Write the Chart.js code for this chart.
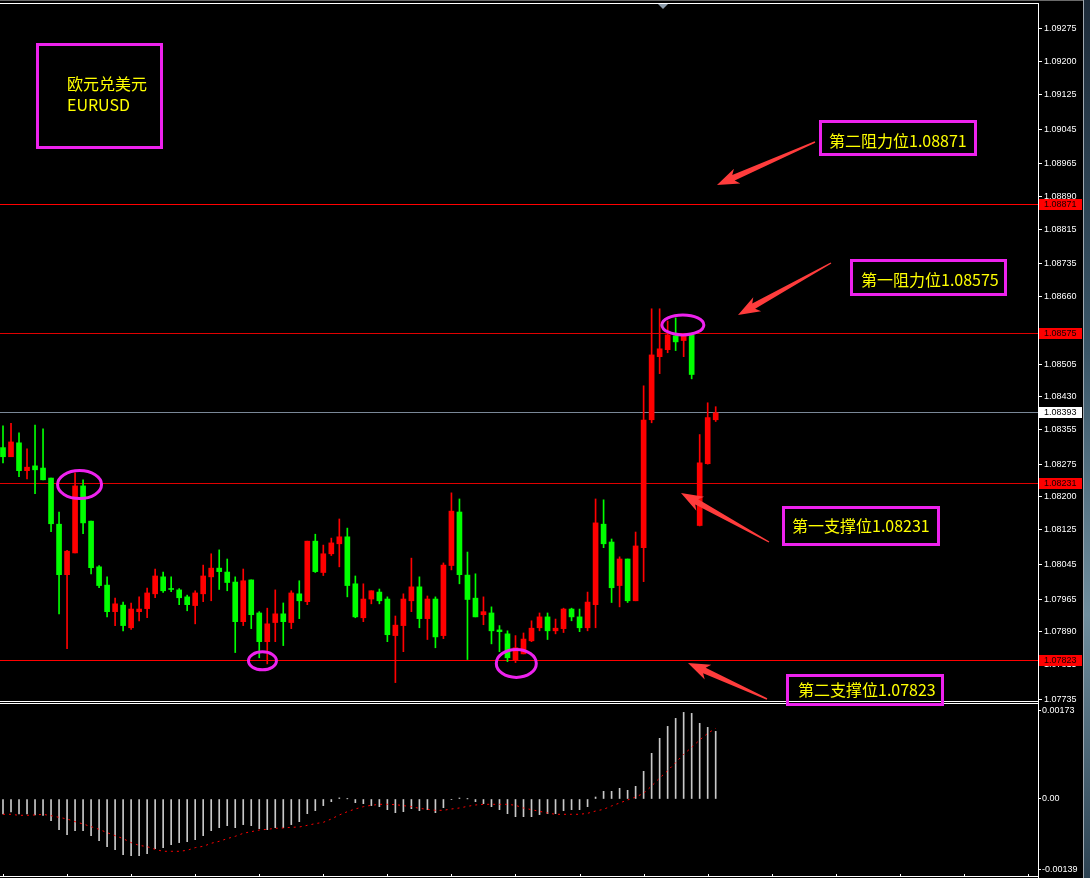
<!DOCTYPE html>
<html><head><meta charset="utf-8">
<script src="https://cdn.jsdelivr.net/npm/chart.js@4.4.1/dist/chart.umd.min.js"></script>
<style>html,body{margin:0;padding:0;background:#000;overflow:hidden}#wrap{position:relative;width:1090px;height:878px}</style>
</head><body><div id="wrap"><canvas id="c" width="1090" height="878"></canvas></div>
<script>
// ---------- DATA ----------
const opens=[1.08313,1.08292,1.08324,1.08260,1.08271,1.08266,1.08243,1.08137,1.08021,1.08071,
1.08225,1.08144,1.08039,1.07997,1.07936,1.07951,1.07899,1.07936,1.07943,1.07977,
1.08016,1.07989,1.07986,1.07970,1.07950,1.07977,1.08016,1.08036,1.08027,1.08004,
1.07913,1.08009,1.07933,1.07867,1.07911,1.07931,1.07911,1.07977,1.07959,1.08098,
1.08026,1.08069,1.08092,1.08108,1.08000,1.07922,1.07965,1.07981,1.07965,1.07881,
1.07904,1.07961,1.07993,1.07920,1.07965,1.07881,1.08042,1.08165,1.08020,1.07967,
1.07929,1.07933,1.07894,1.07885,1.07825,1.07839,1.07869,1.07899,1.07924,1.07892,
1.07897,1.07942,1.07924,1.07899,1.07952,1.08137,1.08096,1.07996,1.08057,1.07961,
1.08083,1.08377,1.08522,1.08538,1.08570,1.08559,1.08572,1.08134,1.08276,1.08377];
const closes=[1.08292,1.08326,1.08260,1.08268,1.08262,1.08239,1.08138,1.08021,1.08075,1.08225,
1.08140,1.08037,1.07996,1.07936,1.07954,1.07904,1.07942,1.07942,1.07979,1.08018,
1.07984,1.07987,1.07968,1.07952,1.07979,1.08018,1.08036,1.08028,1.08003,1.07913,
1.08007,1.07929,1.07867,1.07908,1.07931,1.07913,1.07979,1.07961,1.08098,1.08028,
1.08069,1.08094,1.08108,1.07996,1.07924,1.07965,1.07984,1.07961,1.07883,1.07905,
1.07965,1.07993,1.07920,1.07965,1.07878,1.08043,1.08167,1.08021,1.07964,1.07924,
1.07936,1.07892,1.07890,1.07830,1.07853,1.07873,1.07898,1.07924,1.07892,1.07898,
1.07942,1.07924,1.07899,1.07958,1.08140,1.08092,1.07991,1.08057,1.07961,1.08087,
1.08376,1.08526,1.08540,1.08572,1.08556,1.08570,1.08481,1.08278,1.08382,1.08393];
const highs=[1.08363,1.08369,1.08347,1.08310,1.08365,1.08356,1.08243,1.08165,1.08077,1.08255,
1.08239,1.08144,1.08042,1.08016,1.07967,1.07958,1.07956,1.07970,1.07990,1.08034,
1.08027,1.08016,1.07989,1.07974,1.07984,1.08043,1.08069,1.08078,1.08057,1.08016,
1.08034,1.08009,1.07936,1.07944,1.07986,1.07956,1.07984,1.08007,1.08098,1.08114,
1.08089,1.08105,1.08149,1.08128,1.08018,1.08000,1.07984,1.07988,1.07970,1.07926,
1.07977,1.08059,1.08016,1.07972,1.07970,1.08048,1.08209,1.08195,1.08073,1.08023,
1.07970,1.07947,1.07904,1.07892,1.07881,1.07887,1.07915,1.07933,1.07933,1.07919,
1.07944,1.07944,1.07942,1.07981,1.08195,1.08193,1.08103,1.08062,1.08057,1.08119,
1.08455,1.08632,1.08632,1.08604,1.08611,1.08570,1.08576,1.08343,1.08416,1.08407];
const lows=[1.08278,1.08292,1.08246,1.08241,1.08207,1.08239,1.08120,1.07931,1.07851,1.08071,
1.08115,1.08023,1.07991,1.07924,1.07904,1.07892,1.07895,1.07915,1.07922,1.07968,
1.07980,1.07982,1.07952,1.07938,1.07908,1.07959,1.07961,1.07987,1.07984,1.07842,
1.07904,1.07897,1.07830,1.07816,1.07867,1.07858,1.07897,1.07920,1.07952,1.08026,
1.08019,1.08065,1.08039,1.07970,1.07922,1.07913,1.07954,1.07954,1.07867,1.07773,
1.07844,1.07936,1.07899,1.07872,1.07853,1.07874,1.08032,1.08000,1.07826,1.07924,
1.07906,1.07862,1.07844,1.07821,1.07819,1.07839,1.07867,1.07892,1.07872,1.07885,
1.07888,1.07915,1.07890,1.07892,1.07899,1.08083,1.07957,1.07947,1.07957,1.07961,
1.08005,1.08370,1.08483,1.08531,1.08536,1.08522,1.08471,1.08133,1.08275,1.08373];
const macdHist=[-0.000273,-0.000237,-0.000273,-0.000273,-0.000291,-0.000297,-0.000395,-0.000559,-0.000650,-0.000577,
-0.000577,-0.000668,-0.000759,-0.000868,-0.000923,-0.001014,-0.001032,-0.001032,-0.000996,-0.000905,
-0.000886,-0.000832,-0.000795,-0.000777,-0.000741,-0.000668,-0.000577,-0.000522,-0.000486,-0.000522,
-0.000467,-0.000486,-0.000540,-0.000559,-0.000522,-0.000522,-0.000467,-0.000413,-0.000267,-0.000212,
-0.000121,-0.000049,0.000020,0.000003,-0.000067,-0.000085,-0.000121,-0.000140,-0.000194,-0.000249,
-0.000231,-0.000176,-0.000212,-0.000194,-0.000249,-0.000158,-0.000012,0.000018,0.000002,-0.000049,
-0.000085,-0.000140,-0.000194,-0.000267,-0.000322,-0.000322,-0.000322,-0.000285,-0.000267,-0.000267,
-0.000212,-0.000194,-0.000194,-0.000140,0.000036,0.000140,0.000140,0.000194,0.000158,0.000231,
0.000504,0.000832,0.001105,0.001323,0.001469,0.001578,0.001560,0.001378,0.001305,0.001232];
const macdSignal=[-0.000279,-0.000279,-0.000297,-0.000297,-0.000291,-0.000279,-0.000304,-0.000334,-0.000364,-0.000413,
-0.000455,-0.000504,-0.000552,-0.000613,-0.000668,-0.000722,-0.000795,-0.000844,-0.000868,-0.000917,
-0.000953,-0.000953,-0.000953,-0.000935,-0.000886,-0.000862,-0.000807,-0.000771,-0.000722,-0.000680,
-0.000625,-0.000595,-0.000565,-0.000552,-0.000534,-0.000528,-0.000516,-0.000510,-0.000480,-0.000449,
-0.000425,-0.000364,-0.000291,-0.000231,-0.000182,-0.000140,-0.000115,-0.000097,-0.000097,-0.000103,
-0.000121,-0.000140,-0.000170,-0.000188,-0.000206,-0.000206,-0.000182,-0.000164,-0.000134,-0.000109,
-0.000097,-0.000097,-0.000097,-0.000097,-0.000115,-0.000164,-0.000194,-0.000225,-0.000255,-0.000279,
-0.000279,-0.000279,-0.000279,-0.000261,-0.000219,-0.000188,-0.000127,-0.000073,-0.000018,0.000036,
0.000103,0.000237,0.000382,0.000516,0.000662,0.000814,0.000941,0.001075,0.001196,0.001287];
const priceTicks=[1.09275,1.09200,1.09125,1.09045,1.08965,1.08890,1.08815,1.08735,1.08660,1.08580,
1.08505,1.08430,1.08355,1.08275,1.08200,1.08125,1.08045,1.07965,1.07890,1.07815,1.07735];
const macdTickValues=[0.00161,0,-0.00129];
const macdTickLabels=['0.00173','0.00','-0.00139'];
const levelValues=[1.08871,1.08575,1.08231,1.07823];
const levelTexts=['第二阻力位1.08871','第一阻力位1.08575','第一支撑位1.08231','第二支撑位1.07823'];
const bidPrice=1.08393;
const titleLines=['欧元兑美元','EURUSD'];
// circled candles: [candle index, price]
const circleAnchors=[[9.56,1.08228],[32.4,1.07823],[64.1,1.07817],[84.9,1.08595]];

// ---------- STYLE / LAYOUT ----------
const RED='#ff0000', GREEN='#00ff00', MAG='#ee22ee', YEL='#ffff00', ARROW='#ff3c3c';
const levelColors=['#ff0000','#e00000','#e00000','#ff0000'];
const circleRadii=[[22,14],[14,9],[20,14],[21,10]];
const textBoxes=[[819,120,977,156,829,141],[850,259,1007,296,861,280],[782,506,940,546,792,526],[786,674,944,706,798,690]];
const arrows=[[815,142,717,185],[831,263,738,315],[769,542,681,493],[767,699,688,663]];

const idx=opens.map((_,i)=>i);
const candleColor=idx.map(i=>closes[i]>=opens[i]?RED:GREEN);

function drawArrow(c,tx,ty,hx,hy){
  const dx=hx-tx,dy=hy-ty,L=Math.hypot(dx,dy),ux=dx/L,uy=dy/L,nx=-uy,ny=ux;
  const hl=18,hw=8,sw=3,notch=4;
  const bx=hx-ux*hl,by=hy-uy*hl;
  c.beginPath();
  c.moveTo(tx+nx*0.7,ty+ny*0.7);
  c.lineTo(bx+nx*sw,by+ny*sw);
  c.lineTo(bx-ux*notch+nx*hw,by-uy*notch+ny*hw);
  c.lineTo(hx,hy);
  c.lineTo(bx-ux*notch-nx*hw,by-uy*notch-ny*hw);
  c.lineTo(bx-nx*sw,by-ny*sw);
  c.lineTo(tx-nx*0.7,ty-ny*0.7);
  c.closePath();c.fill();
}
function priceBox(c,x,y,txt,bg,fg){
  const r=Math.floor(y);
  c.fillStyle=bg;c.fillRect(x,r-5,43,11);
  c.fillStyle=fg;c.font='9px "Liberation Sans"';c.textBaseline='middle';c.textAlign='left';
  c.fillText(txt,x+5,r+0.5);
}
function noPad(s){s.width=52;s.paddingTop=0;s.paddingBottom=0;}

const overlay={
  id:'overlay',
  beforeDraw(chart){const c=chart.ctx;c.save();c.fillStyle='#000';c.fillRect(0,0,chart.width,chart.height);c.restore();},
  beforeDatasetsDraw(chart){
    const c=chart.ctx,ys=chart.scales.y,a=chart.chartArea;
    c.save();
    levelValues.forEach((v,k)=>{const py=Math.floor(ys.getPixelForValue(v));c.fillStyle=levelColors[k];c.fillRect(a.left,py,a.right-a.left,1);});
    const pb=Math.floor(ys.getPixelForValue(bidPrice));
    c.fillStyle='#7a8898';c.fillRect(a.left,pb,a.right-a.left,1);
    c.restore();
  },
  afterDraw(chart){
    const c=chart.ctx,ys=chart.scales.y,xs=chart.scales.x,a=chart.chartArea;
    c.save();
    // frame
    c.fillStyle='#6a6a6a';c.fillRect(0,0,1090,1);
    c.fillStyle='#ffffff';
    c.fillRect(0,3,1039,1);
    c.fillRect(0,Math.round(ys.bottom)-1,1039,1);
    c.fillRect(0,Math.round(ys.bottom)+1,1039,1);
    c.fillRect(0,876,1039,1);
    for(let k=0;k<=16;k++){const px=Math.round(xs.getPixelForValue(k*8));c.fillRect(px,874,1,3);}
    // shift marker
    c.fillStyle='#8d9cab';c.beginPath();c.moveTo(658,4);c.lineTo(668,4);c.lineTo(663,9);c.closePath();c.fill();
    // axis price labels
    levelValues.forEach((v,k)=>{priceBox(c,1039,ys.getPixelForValue(v),v.toFixed(5),'#ff0000','#1a0000');});
    priceBox(c,1039,ys.getPixelForValue(bidPrice),bidPrice.toFixed(5),'#ffffff','#000000');
    // right desktop strip
    c.fillStyle='#a0a8b0';c.fillRect(1083,0,1,878);
    const g=c.createLinearGradient(0,0,0,878);g.addColorStop(0,'#1e2c3a');g.addColorStop(0.4,'#3a5668');g.addColorStop(0.7,'#6f8e9e');g.addColorStop(1,'#2c4252');
    c.fillStyle=g;c.fillRect(1084,0,6,878);
    // title box
    c.strokeStyle=MAG;c.lineWidth=3;c.strokeRect(37.5,44.5,124,103);
    c.fillStyle=YEL;c.textBaseline='middle';c.textAlign='left';
    c.font='16px "Noto Sans CJK SC"';c.fillText(titleLines[0],67,84);
    c.font='16px "Noto Sans CJK SC"';c.fillText(titleLines[1],67,105);
    // level text boxes
    textBoxes.forEach((b,k)=>{
      c.strokeStyle=MAG;c.lineWidth=3;c.strokeRect(b[0]+1.5,b[1]+1.5,b[2]-b[0]-3,b[3]-b[1]-3);
      c.fillStyle=YEL;c.font='16px "Noto Sans CJK SC"';c.fillText(levelTexts[k],b[4],b[5]);
    });
    // arrows
    c.fillStyle=ARROW;arrows.forEach(r=>drawArrow(c,r[0],r[1],r[2],r[3]));
    // ellipses
    c.strokeStyle=MAG;c.lineWidth=3;
    circleAnchors.forEach((p,k)=>{const cx=xs.getPixelForValue(p[0]),cy=ys.getPixelForValue(p[1]);c.beginPath();c.ellipse(cx,cy,circleRadii[k][0],circleRadii[k][1],0,0,Math.PI*2);c.stroke();});
    c.restore();
  }
};

new Chart(document.getElementById('c'),{
  type:'bar',
  data:{datasets:[
    {label:'body',data:idx.map(i=>({x:i,y:[opens[i],closes[i]]})),backgroundColor:candleColor,barThickness:5,grouped:false,yAxisID:'y',order:1,borderWidth:0,minBarLength:1},
    {label:'wick',data:idx.map(i=>({x:i,y:[lows[i],highs[i]]})),backgroundColor:candleColor,barThickness:1,grouped:false,yAxisID:'y',order:2,borderWidth:0},
    {label:'MACD',data:idx.map(i=>({x:i,y:macdHist[i]})),backgroundColor:'#c8c8c8',barThickness:1,grouped:false,yAxisID:'y2',order:3,borderWidth:0},
    {type:'line',label:'Signal',data:idx.map(i=>({x:i,y:macdSignal[i]})),borderColor:'#ff0000',borderWidth:1,borderDash:[2,4],pointRadius:0,yAxisID:'y2',order:0,tension:0}
  ]},
  options:{
    responsive:false,animation:false,devicePixelRatio:1,
    layout:{autoPadding:false,padding:{top:3,bottom:1,left:0,right:0}},
    plugins:{legend:{display:false},tooltip:{enabled:false}},
    scales:{
      x:{type:'linear',min:-0.375,max:129.25,offset:false,display:false},
      y:{position:'right',stack:'panes',stackWeight:699,min:1.077284,max:1.093347,
        afterBuildTicks:s=>{s.ticks=priceTicks.map(v=>({value:v}));},
        afterFit:noPad,
        ticks:{color:'#ffffff',font:{family:'Liberation Sans',size:9},padding:2,callback:v=>Number(v).toFixed(5)},
        grid:{drawOnChartArea:false,tickLength:4,color:'#ffffff'},border:{color:'#ffffff'}},
      y2:{position:'right',stack:'panes',stackWeight:175,min:-0.001421,max:0.001767,
        afterBuildTicks:s=>{s.ticks=macdTickValues.map(v=>({value:v}));},
        afterFit:noPad,
        ticks:{color:'#ffffff',font:{family:'Liberation Sans',size:9},padding:1,callback:v=>macdTickLabels[macdTickValues.indexOf(v)]},
        grid:{drawOnChartArea:false,tickLength:3,color:'#ffffff'},border:{color:'#ffffff'}}
    }
  },
  plugins:[overlay]
});
</script></body></html>
